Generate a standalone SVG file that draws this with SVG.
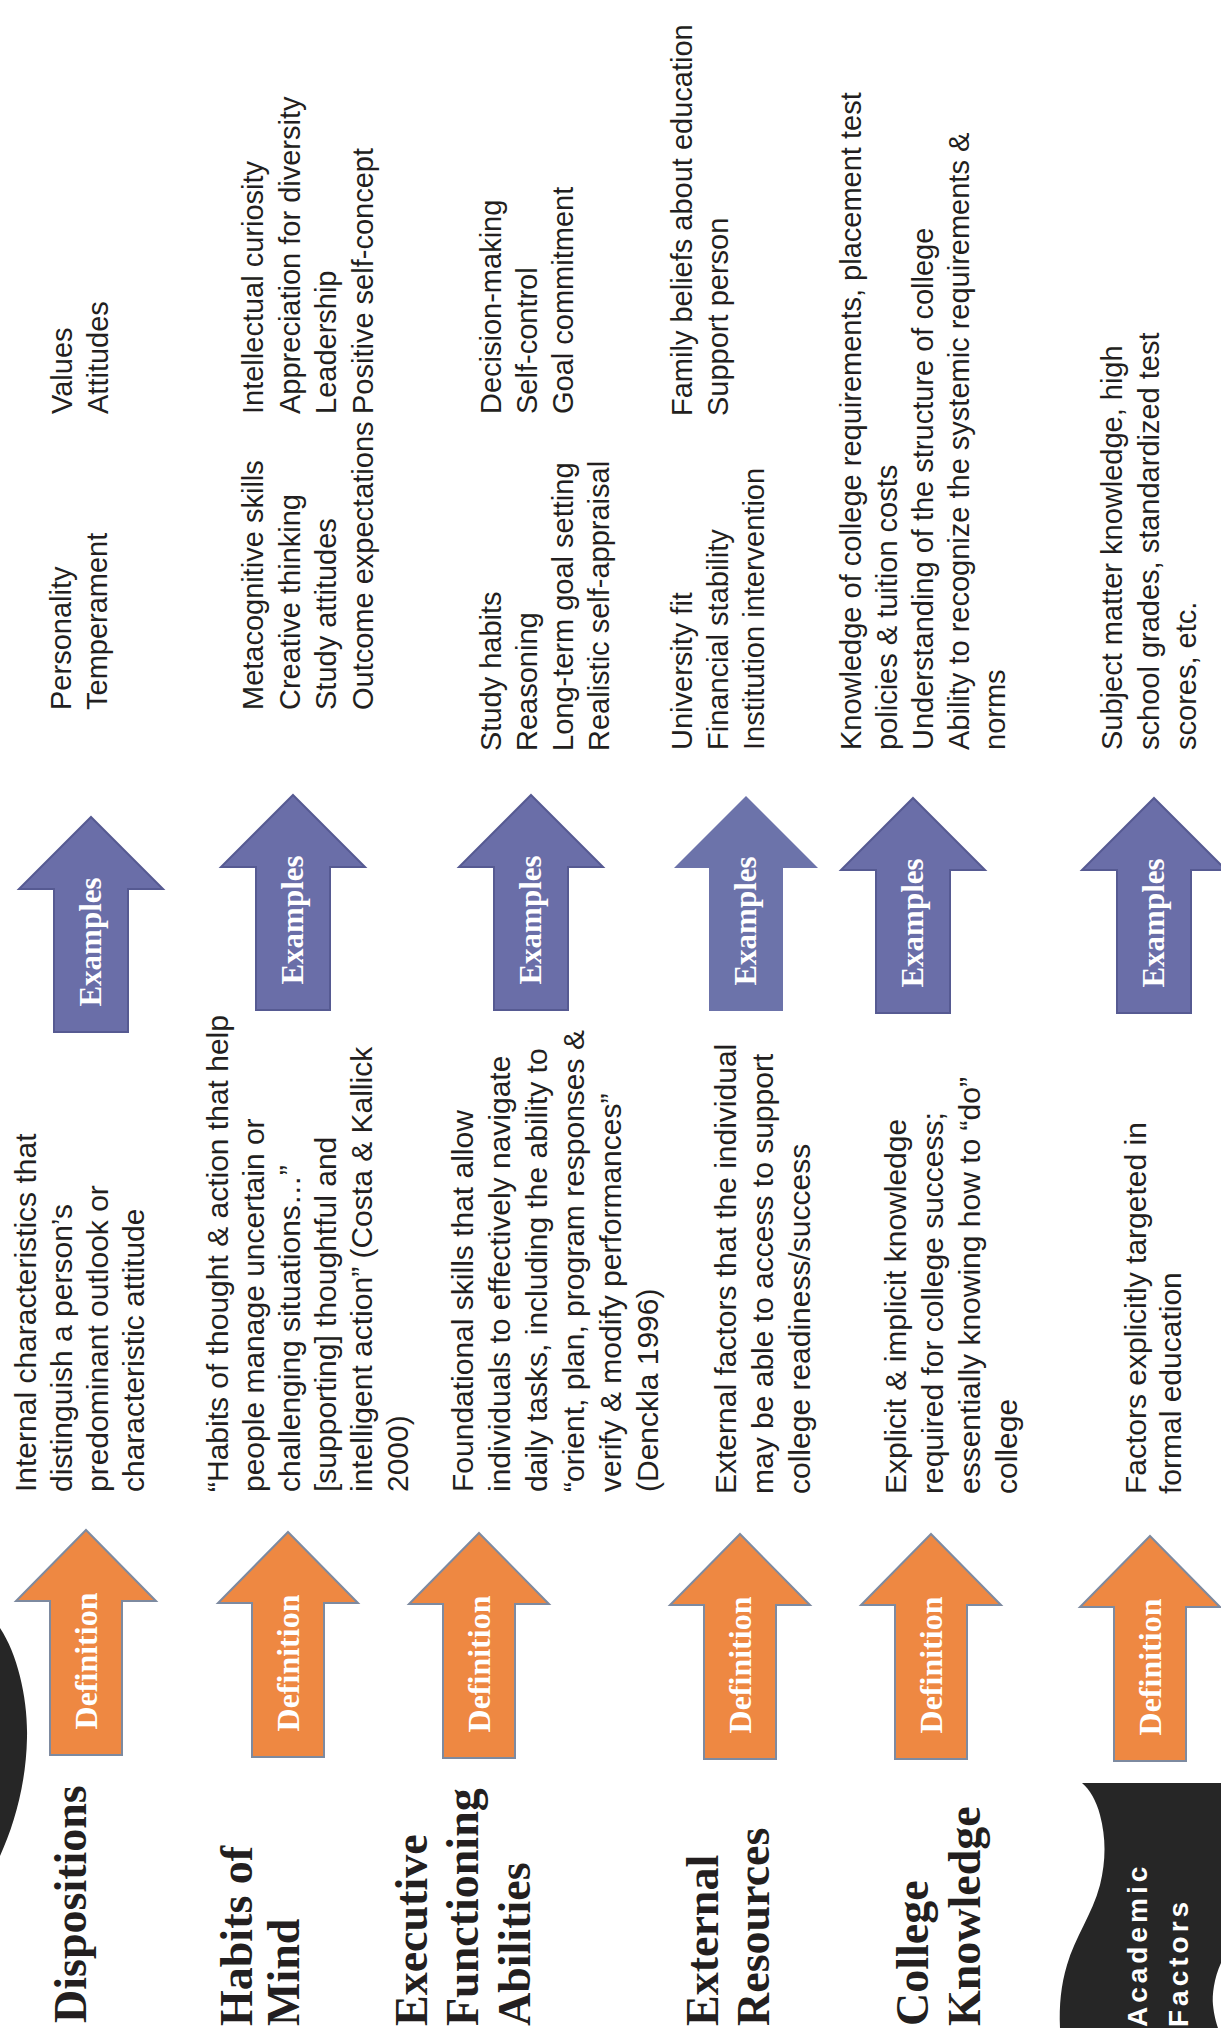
<svg xmlns="http://www.w3.org/2000/svg" xmlns:xlink="http://www.w3.org/1999/xlink" width="1221" height="2039" viewBox="0 0 1221 2039">
<style>
.lbl{font-family:"Liberation Serif","Times New Roman",serif;font-weight:bold;font-size:46px;fill:#231f20}
.def{font-family:"Liberation Sans",Arial,sans-serif;font-size:30px;fill:#231f20}
.ex{font-family:"Liberation Sans",Arial,sans-serif;font-size:29px;fill:#231f20}
.atxt{font-family:"Liberation Serif","Times New Roman",serif;font-weight:bold;fill:#ffffff;text-anchor:middle}
.orange{fill:#EE8842;stroke:#7d8aa0;stroke-width:2}
.blue{fill:#6A6EA8;stroke:#565a92;stroke-width:2}
.blue2{fill:#6C73AA}
.ac{font-family:"Liberation Sans",Arial,sans-serif;font-weight:900;font-size:28px;letter-spacing:4px;fill:#ffffff}
</style>
<defs>
<path id="darrow" d="M0,0 L70,71 L36,71 L36,225 L-36,225 L-36,71 L-70,71 Z"/>
<path id="earrow" d="M0,0 L72,72 L37,72 L37,215 L-37,215 L-37,72 L-72,72 Z"/>
</defs>
<rect x="0" y="0" width="1221" height="2039" fill="#ffffff"/>

<g id="decor">
<path d="M0,1628 C18,1655 28,1700 27,1738 C26,1785 14,1825 0,1856 Z" fill="#262626"/>
</g>

<g id="connectors">
<use xlink:href="#darrow" class="orange" transform="translate(86,1530)"/>
<use xlink:href="#darrow" class="orange" transform="translate(288,1532)"/>
<use xlink:href="#darrow" class="orange" transform="translate(479,1533)"/>
<use xlink:href="#darrow" class="orange" transform="translate(740,1534)"/>
<use xlink:href="#darrow" class="orange" transform="translate(931,1534)"/>
<use xlink:href="#darrow" class="orange" transform="translate(1150,1536)"/>
<use xlink:href="#earrow" class="blue" transform="translate(91,817)"/>
<use xlink:href="#earrow" class="blue" transform="translate(293,795)"/>
<use xlink:href="#earrow" class="blue" transform="translate(531,795)"/>
<use xlink:href="#earrow" class="blue2" transform="translate(746,796)"/>
<use xlink:href="#earrow" class="blue" transform="translate(913,798)"/>
<use xlink:href="#earrow" class="blue" transform="translate(1154,798)"/>
<text class="atxt" font-size="32" transform="translate(97,1661) rotate(-90)">Definition</text>
<text class="atxt" font-size="32" transform="translate(299,1663) rotate(-90)">Definition</text>
<text class="atxt" font-size="32" transform="translate(490,1664) rotate(-90)">Definition</text>
<text class="atxt" font-size="32" transform="translate(751,1665) rotate(-90)">Definition</text>
<text class="atxt" font-size="32" transform="translate(942,1665) rotate(-90)">Definition</text>
<text class="atxt" font-size="32" transform="translate(1161,1667) rotate(-90)">Definition</text>
<text class="atxt" font-size="31" transform="translate(101,942) rotate(-90)">Examples</text>
<text class="atxt" font-size="31" transform="translate(303,920) rotate(-90)">Examples</text>
<text class="atxt" font-size="31" transform="translate(541,920) rotate(-90)">Examples</text>
<text class="atxt" font-size="31" transform="translate(756,921) rotate(-90)">Examples</text>
<text class="atxt" font-size="31" transform="translate(923,923) rotate(-90)">Examples</text>
<text class="atxt" font-size="31" transform="translate(1164,923) rotate(-90)">Examples</text>
</g>

<g id="dispositions">
<text class="lbl" transform="translate(86,2023) rotate(-90)">Dispositions</text>
<text class="def" transform="translate(36,1492) rotate(-90)"><tspan x="0" y="0">Internal characteristics that</tspan><tspan x="0" y="36">distinguish a person’s</tspan><tspan x="0" y="72">predominant outlook or</tspan><tspan x="0" y="108">characteristic attitude</tspan></text>
<text class="ex" transform="translate(71,710) rotate(-90)"><tspan x="0" y="0">Personality</tspan><tspan x="0" y="36">Temperament</tspan></text>
<text class="ex" transform="translate(72,414) rotate(-90)"><tspan x="0" y="0">Values</tspan><tspan x="0" y="36">Attitudes</tspan></text>
</g>

<g id="habits-of-mind">
<text class="lbl" transform="translate(252,2026) rotate(-90)"><tspan x="0" y="0">Habits of</tspan><tspan x="0" y="47">Mind</tspan></text>
<text class="def" transform="translate(228,1492) rotate(-90)"><tspan x="0" y="0">“Habits of thought &amp; action that help</tspan><tspan x="0" y="36">people manage uncertain or</tspan><tspan x="0" y="72">challenging situations…”</tspan><tspan x="0" y="108">[supporting] thoughtful and</tspan><tspan x="0" y="144">intelligent action” (Costa &amp; Kallick</tspan><tspan x="0" y="180">2000)</tspan></text>
<text class="ex" transform="translate(263,710) rotate(-90)"><tspan x="0" y="0">Metacognitive skills</tspan><tspan x="0" y="37">Creative thinking</tspan><tspan x="0" y="73">Study attitudes</tspan><tspan x="0" y="110">Outcome expectations</tspan></text>
<text class="ex" transform="translate(263,414) rotate(-90)"><tspan x="0" y="0">Intellectual curiosity</tspan><tspan x="0" y="37">Appreciation for diversity</tspan><tspan x="0" y="73">Leadership</tspan><tspan x="0" y="110">Positive self-concept</tspan></text>
</g>

<g id="executive-functioning">
<text class="lbl" transform="translate(427,2026) rotate(-90)"><tspan x="0" y="0">Executive</tspan><tspan x="0" y="51">Functioning</tspan><tspan x="0" y="103">Abilities</tspan></text>
<text class="def" transform="translate(473,1492) rotate(-90)"><tspan x="0" y="0">Foundational skills that allow</tspan><tspan x="0" y="37">individuals to effectively navigate</tspan><tspan x="0" y="74">daily tasks, including the ability to</tspan><tspan x="0" y="111">“orient, plan, program responses &amp;</tspan><tspan x="0" y="148">verify &amp; modify performances”</tspan><tspan x="0" y="185">(Denckla 1996)</tspan></text>
<text class="ex" transform="translate(501,751) rotate(-90)"><tspan x="0" y="0">Study habits</tspan><tspan x="0" y="36">Reasoning</tspan><tspan x="0" y="72">Long-term goal setting</tspan><tspan x="0" y="108">Realistic self-appraisal</tspan></text>
<text class="ex" transform="translate(501,414) rotate(-90)"><tspan x="0" y="0">Decision-making</tspan><tspan x="0" y="36">Self-control</tspan><tspan x="0" y="72">Goal commitment</tspan></text>
</g>

<g id="external-resources">
<text class="lbl" transform="translate(718,2026) rotate(-90)"><tspan x="0" y="0">External</tspan><tspan x="0" y="51">Resources</tspan></text>
<text class="def" transform="translate(736,1494) rotate(-90)"><tspan x="0" y="0">External factors that the individual</tspan><tspan x="0" y="37">may be able to access to support</tspan><tspan x="0" y="74">college readiness/success</tspan></text>
<text class="ex" transform="translate(692,750) rotate(-90)"><tspan x="0" y="0">University fit</tspan><tspan x="0" y="36">Financial stability</tspan><tspan x="0" y="72">Institution intervention</tspan></text>
<text class="ex" transform="translate(692,416) rotate(-90)"><tspan x="0" y="0">Family beliefs about education</tspan><tspan x="0" y="36">Support person</tspan></text>
</g>

<g id="college-knowledge">
<text class="lbl" transform="translate(928,2026) rotate(-90)"><tspan x="0" y="0">College</tspan><tspan x="0" y="52">Knowledge</tspan></text>
<text class="def" transform="translate(906,1494) rotate(-90)"><tspan x="0" y="0">Explicit &amp; implicit knowledge</tspan><tspan x="0" y="37">required for college success;</tspan><tspan x="0" y="74">essentially knowing how to “do”</tspan><tspan x="0" y="111">college</tspan></text>
<text class="ex" transform="translate(861,750) rotate(-90)"><tspan x="0" y="0">Knowledge of college requirements, placement test</tspan><tspan x="0" y="36">policies &amp; tuition costs</tspan><tspan x="0" y="72">Understanding of the structure of college</tspan><tspan x="0" y="108">Ability to recognize the systemic requirements &amp;</tspan><tspan x="0" y="144">norms</tspan></text>
</g>

<g id="academic-factors">
<path d="M1082,1783 L1221,1783 L1221,1963 C1214,1978 1212,1995 1213,2005 C1214,2015 1216,2022 1218,2028 L1060,2028 C1059,2005 1061,1985 1067,1965 C1075,1937 1092,1915 1100,1885 C1106,1860 1106,1838 1100,1815 C1096,1800 1090,1790 1082,1783 Z" fill="#262626"/>
<text class="ac" transform="translate(1147,2027) rotate(-90)"><tspan x="0" y="0">Academic</tspan><tspan x="0" y="41">Factors</tspan></text>
<text class="def" transform="translate(1146,1494) rotate(-90)"><tspan x="0" y="0">Factors explicitly targeted in</tspan><tspan x="0" y="35">formal education</tspan></text>
<text class="ex" transform="translate(1122,750) rotate(-90)"><tspan x="0" y="0">Subject matter knowledge, high</tspan><tspan x="0" y="37">school grades, standardized test</tspan><tspan x="0" y="74">scores, etc.</tspan></text>
</g>
</svg>
